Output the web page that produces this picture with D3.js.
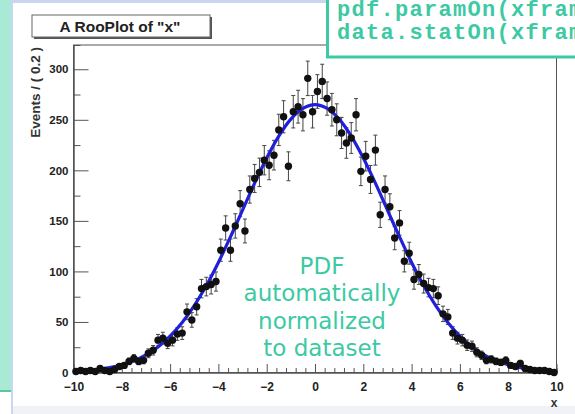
<!DOCTYPE html>
<html>
<head>
<meta charset="utf-8">
<script src="https://cdn.jsdelivr.net/npm/d3@7/dist/d3.min.js"></script>
<style>
  body { margin: 0; background: #fff; }
  svg { display: block; }
  .tick text { font-family: "Liberation Sans", Arial, sans-serif; font-weight: bold; fill: #222; }
</style>
</head>
<body>
<script>
// histogram: 100 bins of 0.2 between -10 and 10
const binLow = -10;
const binWidth = 0.2;
const counts = [
  1, 2, 1, 2, 1, 4, 2, 1, 3, 6,
  7, 11, 14, 11, 12, 19, 22, 32, 34, 29,
  32, 38, 39, 60, 52, 65, 83, 85, 87, 90,
  121, 143, 121, 145, 167, 140, 181, 192, 198, 210,
  205, 215, 240, 253, 204, 258, 263, 255, 291, 258,
  278, 288, 271, 260, 250, 237, 227, 232, 255, 199,
  214, 191, 220, 156, 181, 164, 133, 148, 110, 118,
  92, 97, 88, 84, 83, 76, 58, 55, 39, 34,
  32, 27, 26, 20, 17, 12, 13, 11, 10, 12,
  7, 6, 9, 4, 3, 2, 2, 2, 1, 0
];

// fitted pdf, read every 0.5 in x
const curveX = [
  -10, -9.5, -9, -8.5, -8, -7.5, -7, -6.5, -6, -5.5, -5, -4.5, -4, -3.5, -3, -2.5, -2, -1.5, -1, -0.5,
  0, 0.5, 1, 1.5, 2, 2.5, 3, 3.5, 4, 4.5, 5, 5.5, 6, 6.5, 7, 7.5, 8, 8.5, 9, 9.5, 10
];
const curveY = [
  1.0, 1.8, 2.9, 4.8, 7.6, 11.6, 17.4, 25.3, 35.9, 49.4, 66.1, 86.0, 108.9, 134.2, 160.7, 187.3, 212.2, 233.9, 250.7, 261.3,
  265, 261.3, 250.7, 233.9, 212.2, 187.3, 160.7, 134.2, 108.9, 86.0, 66.1, 49.4, 35.9, 25.3, 17.4, 11.6, 7.6, 4.8, 2.9, 1.8, 1.0
];

const yTicks = [0, 50, 100, 150, 200, 250, 300];
const xTicks = [-10, -8, -6, -4, -2, 0, 2, 4, 6, 8, 10];

const plotTitle = 'A RooPlot of "x"';
const yTitle = "Events / ( 0.2 )";
const xTitle = "x";
const codeLines = ["pdf.paramOn(xframe)", "data.statOn(xframe)"];
const noteLines = ["PDF", "automatically", "normalized", "to dataset"];

const W = 575, H = 414;
const teal = "#3cc9a3";

const svg = d3.select("body").append("svg")
  .attr("width", W)
  .attr("height", H);

// slide background bits
svg.append("rect").attr("x", 0).attr("y", 0).attr("width", W).attr("height", H).attr("fill", "#fff");
svg.append("rect").attr("x", 0).attr("y", 0).attr("width", 11).attr("height", 391).attr("fill", "#a9ead6");
svg.append("rect").attr("x", 0).attr("y", 390).attr("width", 11).attr("height", 2).attr("fill", "#5cc79c");
svg.append("rect").attr("x", 11).attr("y", 0).attr("width", 2).attr("height", H).attr("fill", "#c9d6f2");
svg.append("rect").attr("x", 11).attr("y", 0).attr("width", W).attr("height", 3).attr("fill", "#c9d6f2");
svg.append("rect").attr("x", 13).attr("y", 406).attr("width", W).attr("height", 8).attr("fill", "#f0f2f7");

const x = d3.scaleLinear().domain([-10, 10]).range([73.5, 556.5]);
const y = d3.scaleLinear().domain([0, 324]).range([372.5, 45]);

// frame
svg.append("rect")
  .attr("x", x(-10)).attr("y", y(324))
  .attr("width", x(10) - x(-10)).attr("height", y(0) - y(324))
  .attr("fill", "none").attr("stroke", "#555").attr("stroke-width", 1);

// y axis, ticks pointing inside
const yMinor = svg.append("g").attr("transform", `translate(${x(-10)},0)`)
  .call(d3.axisLeft(y).tickValues(d3.range(25, 324, 50)).tickSize(-7).tickFormat(""));
const yAxis = svg.append("g").attr("transform", `translate(${x(-10)},0)`)
  .call(d3.axisLeft(y).tickValues(yTicks).tickSize(-15).tickSizeOuter(0).tickPadding(5));
yAxis.selectAll("text").attr("font-size", 11.5);

// x axis
const xMinor = svg.append("g").attr("transform", `translate(0,${y(0)})`)
  .call(d3.axisBottom(x).tickValues(d3.range(-9.6, 10, 0.4).filter(v => Math.abs(Math.round(v / 2) * 2 - v) > 0.05)).tickSize(-4.5).tickFormat(""));
const xAxis = svg.append("g").attr("transform", `translate(0,${y(0)})`)
  .call(d3.axisBottom(x).tickValues(xTicks).tickSize(-8.5).tickSizeOuter(0).tickPadding(10).tickFormat(d3.format("d")));
xAxis.selectAll("text").attr("font-size", 12);

[yMinor, yAxis, xMinor, xAxis].forEach(g => {
  g.selectAll("line").attr("stroke", "#555");
  g.select(".domain").attr("stroke", "#555");
});

// error bars
const bins = counts.map((c, i) => ({ xc: binLow + (i + 0.5) * binWidth, n: c, err: Math.sqrt(c) }));

const eb = svg.append("g").attr("stroke", "#444").attr("stroke-width", 1);
eb.selectAll("line.v").data(bins).join("line")
  .attr("class", "v")
  .attr("x1", d => x(d.xc)).attr("x2", d => x(d.xc))
  .attr("y1", d => y(d.n + d.err)).attr("y2", d => y(Math.max(0, d.n - d.err)));
eb.selectAll("line.ct").data(bins).join("line")
  .attr("class", "ct")
  .attr("x1", d => x(d.xc) - 2).attr("x2", d => x(d.xc) + 2)
  .attr("y1", d => y(d.n + d.err)).attr("y2", d => y(d.n + d.err));
eb.selectAll("line.cb").data(bins).join("line")
  .attr("class", "cb")
  .attr("x1", d => x(d.xc) - 2).attr("x2", d => x(d.xc) + 2)
  .attr("y1", d => y(Math.max(0, d.n - d.err))).attr("y2", d => y(Math.max(0, d.n - d.err)));

// pdf curve
const line = d3.line()
  .x((d, i) => x(curveX[i]))
  .y(d => y(d))
  .curve(d3.curveCatmullRom);
svg.append("path")
  .datum(curveY)
  .attr("d", line)
  .attr("fill", "none")
  .attr("stroke", "#2020dc")
  .attr("stroke-width", 3.2);

// points
svg.append("g").selectAll("circle").data(bins).join("circle")
  .attr("cx", d => x(d.xc)).attr("cy", d => y(d.n))
  .attr("r", 3.7)
  .attr("fill", "#111");

// axis titles
svg.append("text")
  .attr("transform", `translate(40,47) rotate(-90)`)
  .attr("text-anchor", "end")
  .attr("font-family", "Liberation Sans, Arial, sans-serif")
  .attr("font-weight", "bold")
  .attr("font-size", 13.5)
  .attr("fill", "#333")
  .text(yTitle);
svg.append("text")
  .attr("x", 554).attr("y", 407)
  .attr("text-anchor", "middle")
  .attr("font-family", "Liberation Sans, Arial, sans-serif")
  .attr("font-weight", "bold")
  .attr("font-size", 12)
  .attr("fill", "#333")
  .text(xTitle);

// title box with shadow
svg.append("rect").attr("x", 34).attr("y", 17).attr("width", 178).attr("height", 22).attr("fill", "#555");
svg.append("rect").attr("x", 32).attr("y", 15).attr("width", 178).attr("height", 22)
  .attr("fill", "#fff").attr("stroke", "#666").attr("stroke-width", 1);
svg.append("text")
  .attr("x", 120).attr("y", 31.5)
  .attr("text-anchor", "middle")
  .attr("font-family", "Liberation Sans, Arial, sans-serif")
  .attr("font-weight", "bold")
  .attr("font-size", 15.5)
  .attr("fill", "#222")
  .text(plotTitle);

// code box top right (runs off the slide edge, as in the original)
svg.append("rect")
  .attr("x", 327.5).attr("y", -10)
  .attr("width", 300).attr("height", 67)
  .attr("fill", "#fff").attr("stroke", teal).attr("stroke-width", 3);
svg.append("g").selectAll("text").data(codeLines).join("text")
  .attr("x", 337).attr("y", (d, i) => 16 + i * 23)
  .attr("font-family", "Liberation Mono, Courier New, monospace")
  .attr("font-weight", "bold")
  .attr("font-size", 22)
  .attr("letter-spacing", 1.3)
  .attr("fill", teal)
  .text(d => d);

// annotation
svg.append("g").selectAll("text").data(noteLines).join("text")
  .attr("x", 322).attr("y", (d, i) => 274 + i * 27.3)
  .attr("text-anchor", "middle")
  .attr("font-family", "DejaVu Sans, Verdana, sans-serif")
  .attr("font-size", 23)
  .attr("fill", teal)
  .text(d => d);
</script>
</body>
</html>
